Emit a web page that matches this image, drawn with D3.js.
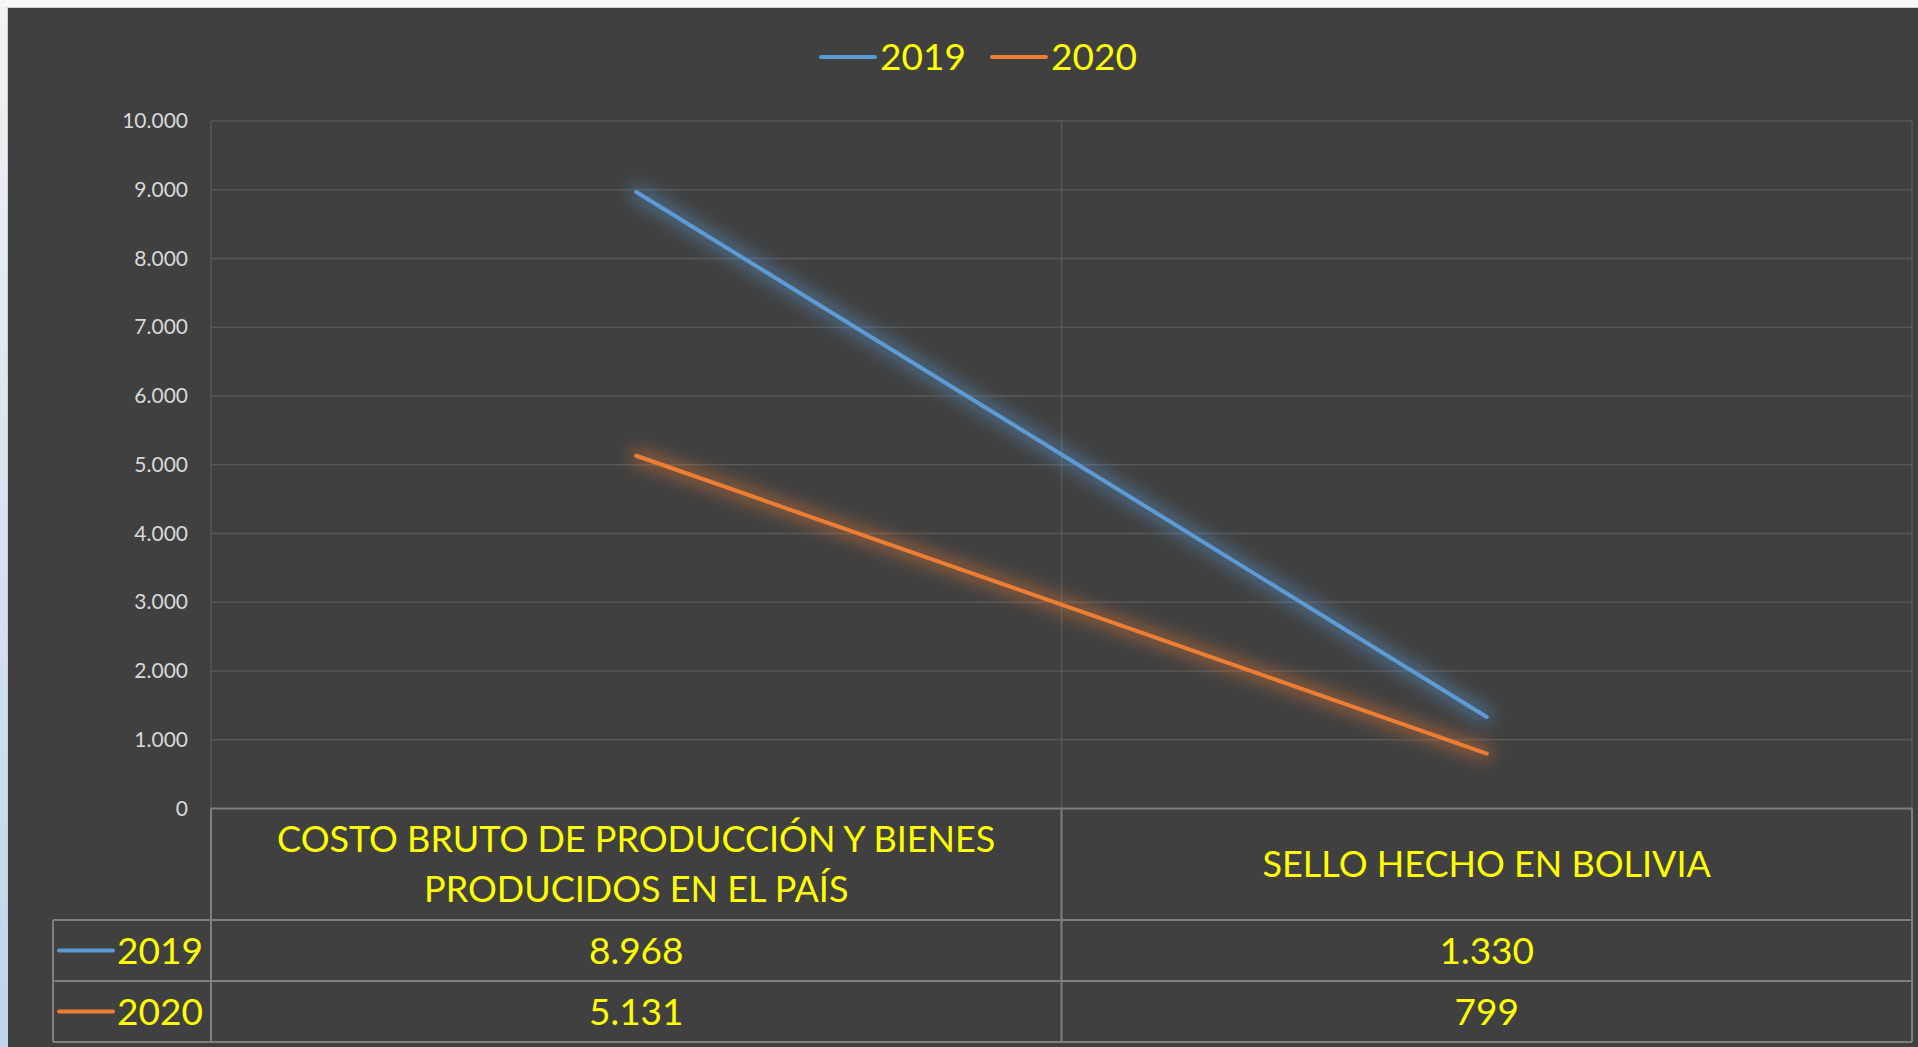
<!DOCTYPE html>
<html>
<head>
<meta charset="utf-8">
<style>
  body { margin: 0; background: #ffffff; overflow: hidden; }
  svg { display: block; font-family: Lato, "Noto Sans", sans-serif; }
</style>
</head>
<body>
<div class="chart"></div>
<script src="https://d3js.org/d3.v7.min.js"></script>
<script>
  // datos
  const categories = ["COSTO BRUTO DE PRODUCCIÓN Y BIENES PRODUCIDOS EN EL PAÍS", "SELLO HECHO EN BOLIVIA"];
  const categoryLines = [["COSTO BRUTO DE PRODUCCIÓN Y BIENES", "PRODUCIDOS EN EL PAÍS"], ["SELLO HECHO EN BOLIVIA"]];
  const seriesNames = ["2019", "2020"];
  const values2019 = [8968, 1330];
  const values2020 = [5131, 799];
  const yTickValues = [0, 1000, 2000, 3000, 4000, 5000, 6000, 7000, 8000, 9000, 10000];

  const seriesColors = ["#5b9bd5", "#ed7d31"];
  const series = [values2019, values2020];

  const width = 1918,
        height = 1047,
        plotLeft = 211,
        plotRight = 1912,
        plotTop = 121,
        plotBottom = 808.5,
        headerBottom = 920,
        rowH = 61,
        tableLeft = 53,
        yellow = "#ffff00",
        gridColor = "#575757",
        tableColor = "#7f7f7f"

  // formato 10.000
  const fmt = d3.formatLocale({decimal: ",", thousands: ".", grouping: [3], currency: ["", ""]}).format(",d");

  const svg = d3.select('.chart')
                .append('svg')
                .attr('width', width)
                .attr('height', height)

  // fondo y bordes de la ventana
  const defs = svg.append("defs")
  const grad = defs.append("linearGradient").attr("id", "side").attr("x1", 0).attr("y1", 0).attr("x2", 0).attr("y2", 1)
  grad.append("stop").attr("offset", "0%").attr("stop-color", "#f2f2f2")
  grad.append("stop").attr("offset", "100%").attr("stop-color", "#bcd5ee")
  svg.append("rect").attr("x", 0).attr("y", 0).attr("width", 8).attr("height", height).attr("fill", "url(#side)")
  svg.append("rect").attr("x", 0).attr("y", 0).attr("width", width).attr("height", 7).attr("fill", "#f7f7f7")
  svg.append("rect").attr("x", 7).attr("y", 7).attr("width", width - 7).attr("height", height - 7).attr("fill", "#d0d0d0")
  svg.append("rect").attr("x", 8).attr("y", 8).attr("width", width - 8).attr("height", height - 8).attr("fill", "#404040")

  // brillo (glow) de las lineas
  seriesColors.forEach((c, i) => {
    const f = defs.append("filter").attr("id", "glow" + i)
                  .attr("filterUnits", "userSpaceOnUse")
                  .attr("x", 0).attr("y", 0).attr("width", width).attr("height", height)
    f.append("feMorphology").attr("in", "SourceGraphic").attr("operator", "dilate").attr("radius", 3).attr("result", "d")
    f.append("feGaussianBlur").attr("in", "d").attr("stdDeviation", 9).attr("result", "b")
    f.append("feComponentTransfer").attr("in", "b").attr("result", "b2")
      .append("feFuncA").attr("type", "linear").attr("slope", 0.6)
    const m = f.append("feMerge")
    m.append("feMergeNode").attr("in", "b2")
    m.append("feMergeNode").attr("in", "SourceGraphic")
  })

  // escalas
  const xScale = d3.scaleBand()
                   .domain(categories)
                   .range([plotLeft, plotRight])
  const yScale = d3.scaleLinear()
                   .domain([0, 10000])
                   .range([plotBottom, plotTop])

  // grilla horizontal
  svg.append("g")
     .selectAll("line")
     .data(yTickValues.filter(d => d > 0))
     .join("line")
     .attr("x1", plotLeft).attr("x2", plotRight)
     .attr("y1", d => yScale(d)).attr("y2", d => yScale(d))
     .attr("stroke", gridColor).attr("stroke-width", 1.5)

  // grilla vertical (bordes de categorias)
  const bounds = categories.map(c => xScale(c)).concat([plotRight])
  svg.append("g")
     .selectAll("line")
     .data(bounds)
     .join("line")
     .attr("x1", d => d).attr("x2", d => d)
     .attr("y1", plotTop).attr("y2", plotBottom)
     .attr("stroke", gridColor).attr("stroke-width", 1.5)

  // eje Y
  const yAxis = d3.axisLeft(yScale)
                  .tickValues(yTickValues)
                  .tickSize(0)
                  .tickPadding(23)
                  .tickFormat(fmt)
  const yAxisGroup = svg.append("g")
                        .attr("transform", `translate(${plotLeft},0)`)
                        .call(yAxis)
  yAxisGroup.select(".domain").remove()
  yAxisGroup.selectAll("text")
            .attr("fill", "#d9d9d9")
            .style("font-size", "21px")
            .style("font-family", "Lato, 'Noto Sans', sans-serif")

  // lineas
  const line = d3.line()
                 .x((d, i) => xScale(categories[i]) + xScale.bandwidth() / 2)
                 .y(d => yScale(d))
  svg.append("g")
     .selectAll("path")
     .data(series)
     .join("path")
     .attr("d", d => line(d))
     .attr("fill", "none")
     .attr("stroke", (d, i) => seriesColors[i])
     .attr("stroke-width", 4)
     .attr("stroke-linecap", "round")
     .attr("filter", (d, i) => `url(#glow${i})`)

  // tabla de datos
  const tbl = svg.append("g").attr("stroke", tableColor).attr("stroke-width", 2)
  tbl.append("line").attr("x1", plotLeft).attr("x2", plotRight).attr("y1", plotBottom).attr("y2", plotBottom)
  const rowLines = [headerBottom, headerBottom + rowH, headerBottom + 2 * rowH]
  tbl.selectAll(".rl").data(rowLines).join("line")
     .attr("x1", tableLeft).attr("x2", plotRight)
     .attr("y1", d => d).attr("y2", d => d)
  tbl.selectAll(".cl").data(bounds).join("line")
     .attr("x1", d => d).attr("x2", d => d)
     .attr("y1", plotBottom).attr("y2", headerBottom + 2 * rowH)
  tbl.append("line").attr("x1", tableLeft).attr("x2", tableLeft)
     .attr("y1", headerBottom).attr("y2", headerBottom + 2 * rowH)

  // encabezados
  const headerMid = (plotBottom + headerBottom) / 2
  categories.forEach((c, i) => {
    const lines = categoryLines[i]
    svg.append("text")
       .attr("text-anchor", "middle")
       .attr("fill", yellow)
       .style("font-size", "36px")
       .selectAll("tspan")
       .data(lines)
       .join("tspan")
       .attr("x", xScale(c) + xScale.bandwidth() / 2)
       .attr("y", (d, j) => headerMid + (j - (lines.length - 1) / 2) * 50)
       .attr("dy", "0.36em")
       .text(d => d)
  })

  // filas
  series.forEach((vals, i) => {
    const cy = headerBottom + rowH * i + rowH / 2
    svg.append("line")
       .attr("x1", 59).attr("x2", 113).attr("y1", cy).attr("y2", cy)
       .attr("stroke", seriesColors[i]).attr("stroke-width", 4).attr("stroke-linecap", "round")
    svg.append("text")
       .attr("x", 117).attr("y", cy).attr("dy", "0.36em")
       .attr("fill", yellow).style("font-size", "37px")
       .text(seriesNames[i])
    svg.append("g")
       .selectAll("text")
       .data(vals)
       .join("text")
       .attr("x", (d, k) => xScale(categories[k]) + xScale.bandwidth() / 2)
       .attr("y", cy).attr("dy", "0.36em")
       .attr("text-anchor", "middle")
       .attr("fill", yellow).style("font-size", "37px")
       .text(d => fmt(d))
  })

  // leyenda superior
  const legendX = [821, 992]
  seriesNames.forEach((s, i) => {
    svg.append("line")
       .attr("x1", legendX[i]).attr("x2", legendX[i] + 54).attr("y1", 57).attr("y2", 57)
       .attr("stroke", seriesColors[i]).attr("stroke-width", 4).attr("stroke-linecap", "round")
    svg.append("text")
       .attr("x", legendX[i] + 59).attr("y", 57).attr("dy", "0.36em")
       .attr("fill", yellow).style("font-size", "37px")
       .text(s)
  })
</script>
</body>
</html>
